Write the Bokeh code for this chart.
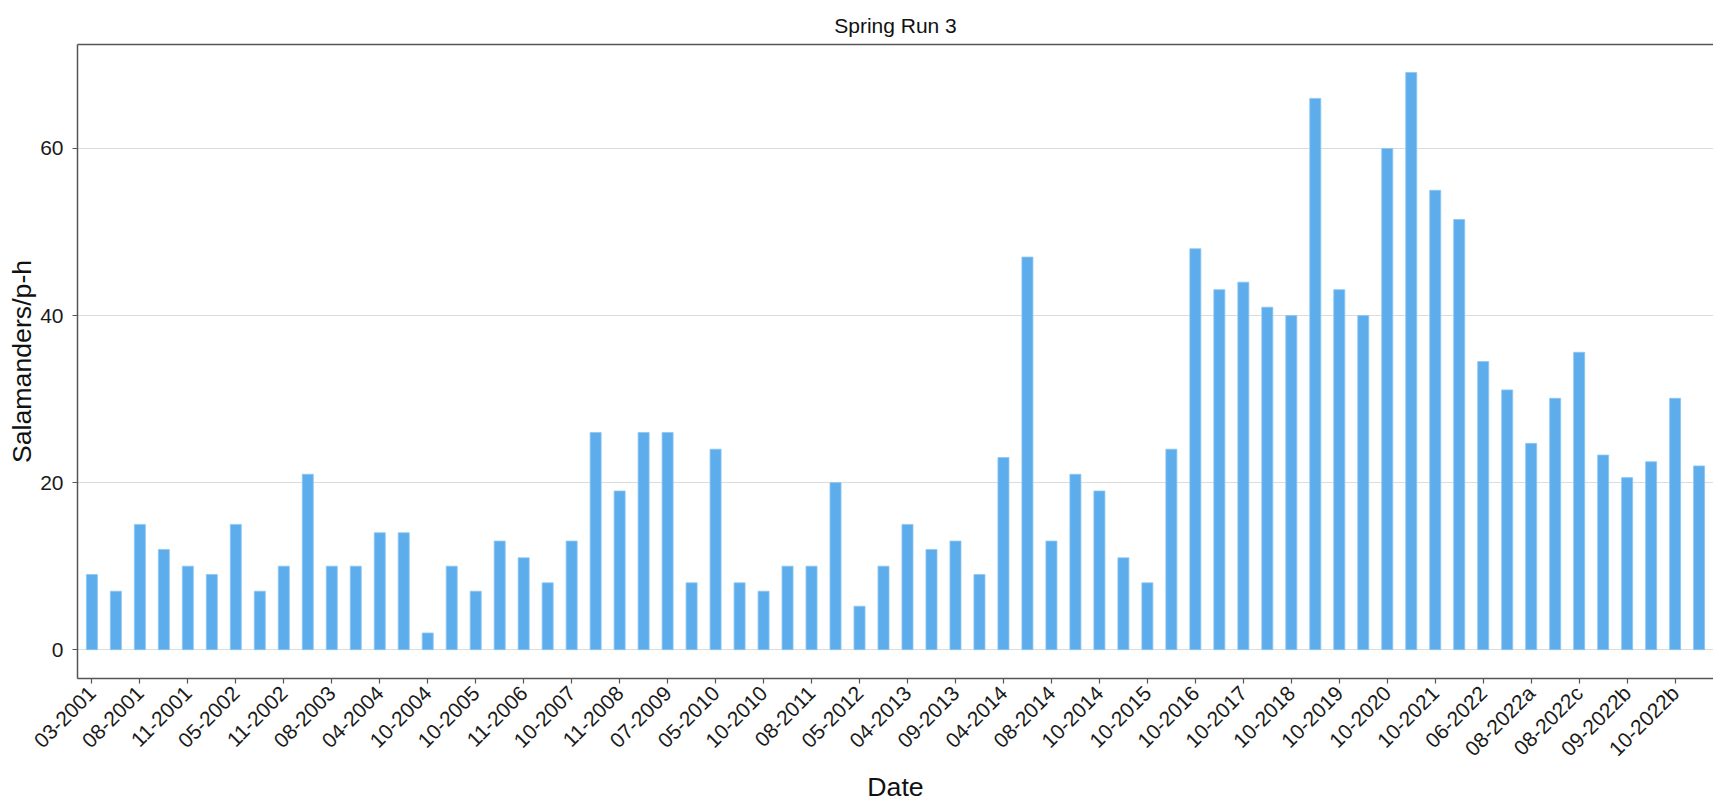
import math
from bokeh.plotting import figure
from bokeh.models import FixedTicker, Range1d, LinearAxis
from bokeh.embed import file_html
from bokeh.resources import INLINE

# Labels shown on the x axis (every other survey date is labelled in the reference)
tick_labels = ["03-2001", "08-2001", "11-2001", "05-2002", "11-2002", "08-2003",
               "04-2004", "10-2004", "10-2005", "11-2006", "10-2007", "11-2008",
               "07-2009", "05-2010", "10-2010", "08-2011", "05-2012", "04-2013",
               "09-2013", "04-2014", "08-2014", "10-2014", "10-2015", "10-2016",
               "10-2017", "10-2018", "10-2019", "10-2020", "10-2021", "06-2022",
               "08-2022a", "08-2022c", "09-2022b", "10-2022b"]

# Salamanders per person-hour, one value per survey (68 surveys)
values = [9, 7, 15, 12, 10, 9, 15, 7, 10, 21,
          10, 10, 14, 14, 2, 10, 7, 13, 11, 8,
          13, 26, 19, 26, 26, 8, 24, 8, 7, 10,
          10, 20, 5.2, 10, 15, 12, 13, 9, 23, 47,
          13, 21, 19, 11, 8, 24, 48, 43.1, 44, 41,
          40, 66, 43.1, 40, 60, 69.1, 55, 51.5, 34.5, 31.1,
          24.7, 30.1, 35.6, 23.3, 20.6, 22.5, 30.1, 22]

y_ticks = [0, 20, 40, 60]

FONT = "Liberation Sans"
x = list(range(len(values)))
label_pos = list(range(0, len(values), 2))

p = figure(width=1713, height=804, output_backend="svg", toolbar_location=None,
           x_range=Range1d(-0.6, 67.6), y_range=Range1d(-3.45, 72.45),
           min_border_left=77, min_border_right=0, min_border_top=44,
           min_border_bottom=126)
p.outline_line_color = None
p.background_fill_color = "white"

p.vbar(x=x, top=values, width=0.46, bottom=0,
       fill_color="#5DADEC", line_color="#8EC6F1", line_width=0.8)

# title
p.title.text = "Spring Run 3"
p.title.align = "center"
p.title.text_font = FONT
p.title.text_font_size = "21px"
p.title.text_font_style = "normal"
p.title.text_color = "#111111"
p.title.standoff = 16

# x axis (bottom)
xa = p.below[0]
xa.ticker = FixedTicker(ticks=label_pos)
xa.major_label_overrides = {i: lab for i, lab in zip(label_pos, tick_labels)}
xa.major_label_orientation = math.pi / 4
xa.minor_tick_line_color = None
xa.major_tick_out = 5
xa.major_tick_in = 0
xa.axis_line_color = "#555555"
xa.axis_line_width = 1.5
xa.major_tick_line_color = "#555555"
xa.major_tick_line_width = 1.2
xa.major_label_text_font = FONT
xa.major_label_text_font_size = "21px"
xa.major_label_text_color = "#1a1a1a"
xa.major_label_standoff = 6
xa.axis_label = "Date"
xa.axis_label_text_font = FONT
xa.axis_label_text_font_size = "26.7px"
xa.axis_label_text_font_style = "normal"
xa.axis_label_text_color = "#111111"
xa.axis_label_standoff = 0

# y axis
ya = p.left[0]
ya.ticker = FixedTicker(ticks=y_ticks)
ya.minor_tick_line_color = None
ya.major_tick_out = 5
ya.major_tick_in = 0
ya.axis_line_color = "#555555"
ya.axis_line_width = 1.5
ya.major_tick_line_color = "#555555"
ya.major_tick_line_width = 1.2
ya.major_label_text_font = FONT
ya.major_label_text_font_size = "21px"
ya.major_label_text_color = "#1a1a1a"
ya.major_label_standoff = 9
ya.axis_label = "Salamanders/p-h"
ya.axis_label_text_font = FONT
ya.axis_label_text_font_size = "26.7px"
ya.axis_label_text_font_style = "normal"
ya.axis_label_text_color = "#111111"
ya.axis_label_standoff = 0

# top border line
top_axis = LinearAxis(ticker=FixedTicker(ticks=[]), axis_line_color="#555555",
                      axis_line_width=1.5, major_tick_line_color=None,
                      minor_tick_line_color=None, major_label_text_font_size="0px")
p.add_layout(top_axis, "above")

p.xgrid.grid_line_color = None
p.ygrid.grid_line_color = "#DCDCDC"
p.ygrid.grid_line_width = 1.2
p.ygrid.ticker = FixedTicker(ticks=y_ticks)

open("out.html", "w").write(file_html(p, INLINE))
